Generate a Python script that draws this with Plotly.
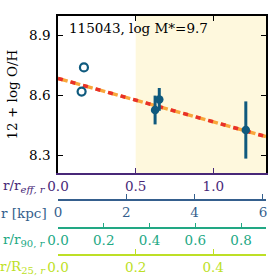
import plotly.graph_objects as go

# ---- data ----
title_text = "115043, log M*=9.7"
open_r = [0.167, 0.152]
open_oh = [8.738, 8.617]
fill_r = [0.625, 0.652, 1.209]
fill_oh = [8.525, 8.578, 8.425]
fill_err = [0.072, 0.057, 0.143]
fit_r = [0.0, 1.339]
fit_oh = [8.683, 8.392]
shade_from = 0.5

reff_ticks = [0.0, 0.5, 1.0]
reff_labels = ["0.0", "0.5", "1.0"]
kpc_ticks = [0, 2, 4, 6]
kpc_labels = ["0", "2", "4", "6"]
r90_ticks = [0.0, 0.2, 0.4, 0.6, 0.8]
r90_labels = ["0.0", "0.2", "0.4", "0.6", "0.8"]
r25_ticks = [0.0, 0.2, 0.4]
r25_labels = ["0.0", "0.2", "0.4"]
y_ticks = [8.3, 8.6, 8.9]
y_labels = ["8.3", "8.6", "8.9"]

reff_max = 1.339
kpc_max = 6.09
r90_max = 0.909
r25_max = 0.536
y_range = [8.21, 8.995]

# ---- styles ----
FONT = "DejaVu Serif"
FS = 13.5
C_REFF = "#482878"
C_KPC = "#355f8d"
C_R90 = "#22a884"
C_R25 = "#bddf26"
C_PT = "#0f5a7e"

fig = go.Figure()

fig.add_trace(go.Scatter(x=fit_r, y=fit_oh, mode="lines",
                         line=dict(color="#f9a63a", width=3.5, dash="10px,3px"),
                         showlegend=False, hoverinfo="skip"))
fig.add_trace(go.Scatter(x=fit_r, y=fit_oh, mode="lines",
                         line=dict(color="#e8302a", width=3.5, dash="5px,8px"),
                         showlegend=False, hoverinfo="skip"))
fig.add_trace(go.Scatter(x=open_r, y=open_oh, mode="markers",
                         marker=dict(size=8, color="rgba(0,0,0,0)",
                                     line=dict(color=C_PT, width=2.2)),
                         showlegend=False))
fig.add_trace(go.Scatter(x=fill_r, y=fill_oh, mode="markers",
                         marker=dict(size=8.5, color=C_PT),
                         error_y=dict(type="data", array=fill_err, color=C_PT,
                                      thickness=3, width=0),
                         showlegend=False))
# empty traces to bind the extra axes
for ax in ["x2", "x3", "x4", "x5"]:
    fig.add_trace(go.Scatter(x=[], y=[], xaxis=ax, yaxis="y", showlegend=False))

fig.add_shape(type="rect", xref="x", yref="y domain", x0=shade_from, x1=reff_max,
              y0=0, y1=1, fillcolor="#fef8dd", line=dict(width=0), layer="below")

H_PAPER = 239.0
def py(pix):  # pixel y (from top of image) -> paper fraction
    return (255 - pix) / H_PAPER

ydom0 = py(173)

def xax(color, rng, tv, tt, **kw):
    d = dict(range=rng, tickvals=tv, ticktext=tt, showline=True, linecolor=color,
             linewidth=1.5, ticks="inside", ticklen=5, tickwidth=1.3,
             tickcolor=color, tickfont=dict(family=FONT, size=FS, color=color),
             showgrid=False, zeroline=False, fixedrange=True, automargin=False)
    d.update(kw)
    return d

fig.update_layout(
    width=277, height=277,
    margin=dict(l=58, r=11, t=16, b=22, autoexpand=False),
    paper_bgcolor="white", plot_bgcolor="white",
    font=dict(family=FONT, size=FS, color="black"),
    xaxis=xax(C_REFF, [0, reff_max], reff_ticks, reff_labels, anchor="y"),
    xaxis2=xax(C_KPC, [0, kpc_max], kpc_ticks, kpc_labels, overlaying="x",
               anchor="free", position=py(200), side="bottom"),
    xaxis3=xax(C_R90, [0, r90_max], r90_ticks, r90_labels, overlaying="x",
               anchor="free", position=py(228.3), side="bottom"),
    xaxis4=xax(C_R25, [0, r25_max], r25_ticks, r25_labels, overlaying="x",
               anchor="free", position=0, side="bottom"),
    xaxis5=xax("black", [0, reff_max], reff_ticks, reff_labels, overlaying="x",
               anchor="y", side="top", showticklabels=False),
    yaxis=dict(domain=[ydom0, 1], range=y_range, tickvals=y_ticks, ticktext=y_labels,
               showline=True, linecolor="black", linewidth=1.5, mirror="ticks",
               ticks="inside", ticklen=5, tickwidth=1.3, tickcolor="black",
               tickfont=dict(family=FONT, size=FS, color="black"),
               ticklabelstandoff=3,
               showgrid=False, zeroline=False, fixedrange=True, automargin=False),
)

W_PLOT = 208.0
def px(pix):
    return (pix - 58) / W_PLOT

SUB = "<sub><span style='font-size:10px'>{}</span></sub>"
annots = [
    dict(text=title_text, x=px(67), y=py(28), xanchor="left", yanchor="middle",
         font=dict(color="black")),
    dict(text="12 + log O/H", x=px(11), y=(ydom0 + 1) / 2, textangle=-90,
         xanchor="center", yanchor="middle", font=dict(color="black")),
    dict(text="r/r" + SUB.format("<i>eff, r</i>"), x=px(48), y=py(186),
         xanchor="right", yanchor="middle", font=dict(color=C_REFF)),
    dict(text="r [kpc]", x=px(49), y=py(213),
         xanchor="right", yanchor="middle", font=dict(color=C_KPC)),
    dict(text="r/r" + SUB.format("90, <i>r</i>"), x=px(48), y=py(240),
         xanchor="right", yanchor="middle", font=dict(color=C_R90)),
    dict(text="r/R" + SUB.format("25, <i>r</i>"), x=px(48), y=py(267),
         xanchor="right", yanchor="middle", font=dict(color=C_R25)),
]
for a in annots:
    a.update(xref="paper", yref="paper", showarrow=False)
    a["font"] = dict(family=FONT, size=FS, **a["font"])
fig.update_layout(annotations=annots)

fig.write_html("out.html",
               config={"displayModeBar": False},
               post_script="document.body.style.margin='0px';"
                           "document.body.style.overflow='hidden';")
